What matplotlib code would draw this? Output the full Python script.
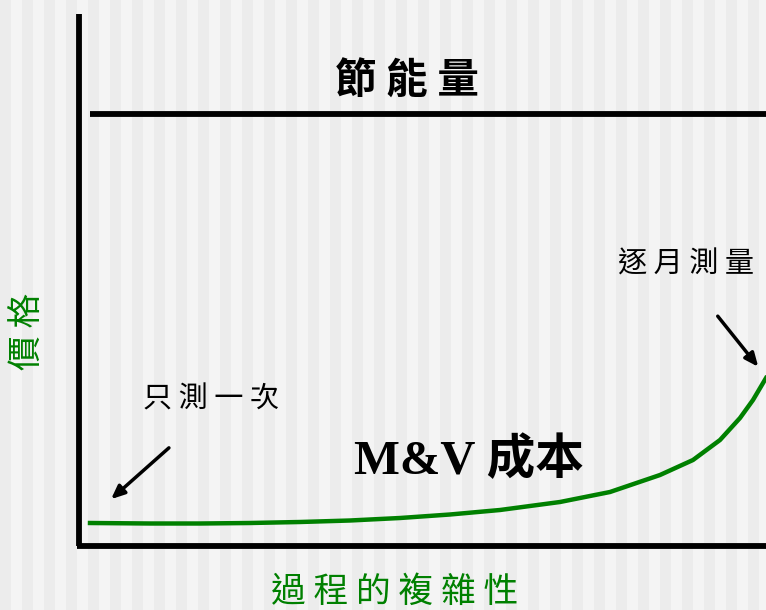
import matplotlib
matplotlib.use("Agg")
import matplotlib.pyplot as plt

plt.rcParams['font.family'] = ['Noto Sans CJK TC', 'DejaVu Sans']

# Curva de costo M&V (x: complejidad, y: precio, en coordenadas de la lámina)
complexity = [90, 150, 200, 250, 300, 350, 400, 450, 500, 560, 610, 660, 693, 720, 740, 753, 766]
mv_cost = [523, 523.5, 523.5, 523, 522, 520.5, 518, 514.5, 510, 502, 492, 475, 460, 440, 418, 400, 378]

title_text = "節 能 量"
curve_label = "M&V 成本"
low_label = "只 測 一 次"
high_label = "逐 月 測 量"
x_label = "過 程 的 複 雜 性"
y_label = "價 格"

GREEN = "#008000"

fig = plt.figure(figsize=(7.66, 6.10), dpi=100)
ax = fig.add_axes([0, 0, 1, 1])
ax.set_xlim(0, 766)
ax.set_ylim(610, 0)
ax.axis("off")

# fondo con rayas verticales
ax.axvspan(0, 766, color="#f4f4f4", zorder=0)
for x0 in range(0, 766, 22):
    ax.axvspan(x0, x0 + 11, color="#ececec", lw=0, zorder=0)

# ejes dibujados a mano
ax.plot([79, 79], [14, 546], color="black", lw=4.2, solid_capstyle="butt")
ax.plot([77, 766], [545.5, 545.5], color="black", lw=4.2, solid_capstyle="butt")
ax.plot([90, 766], [113.5, 113.5], color="black", lw=4.2, solid_capstyle="butt")

ax.plot(complexity, mv_cost, color=GREEN, lw=3.2, solid_joinstyle="round")

ax.text(407, 82, title_text, fontsize=30, fontweight="bold", ha="center", va="center")
ax.text(469, 461, curve_label, fontsize=35, fontweight="bold", ha="center", va="center",
        family=["Liberation Serif", "Noto Sans CJK TC"])
ax.text(211, 400, low_label, fontsize=21, ha="center", va="center")
ax.text(686, 265, high_label, fontsize=21, ha="center", va="center")
ax.text(395, 592, x_label, fontsize=25, color=GREEN, ha="center", va="center")
ax.text(28, 331, y_label, fontsize=25, color=GREEN, ha="center", va="center", rotation=90)

arrow = dict(arrowstyle="-|>,head_length=0.8,head_width=0.35", color="black", lw=2.5)
ax.annotate("", xy=(109, 501), xytext=(171, 446), arrowprops=arrow)
ax.annotate("", xy=(760, 369), xytext=(716, 314), arrowprops=arrow)

plt.savefig("out.png", dpi=100)
